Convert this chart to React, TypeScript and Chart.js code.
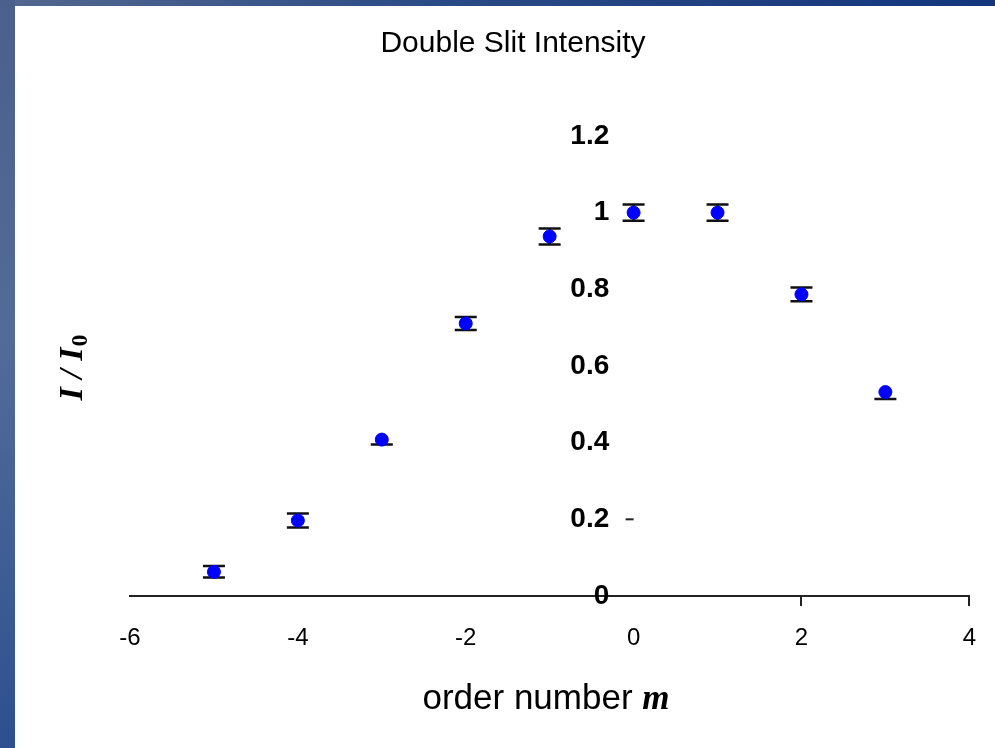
import React, { useEffect, useRef } from "react";
import { Chart, registerables } from "chart.js";

Chart.register(...registerables);

// ---- data ----
const orderNumbers = [-5, -4, -3, -2, -1, 0, 1, 2, 3];
const intensity = [0.063, 0.197, 0.408, 0.711, 0.938, 1.0, 1.0, 0.787, 0.532];
const errorUp = [0.015, 0.018, 0, 0.017, 0.021, 0.021, 0.021, 0.018, 0];
const errorDown = [0.015, 0.018, 0.013, 0.017, 0.021, 0.021, 0.021, 0.018, 0.018];
const xTicks = [-6, -4, -2, 0, 2, 4];
const yTicks = [0, 0.2, 0.4, 0.6, 0.8, 1, 1.2];
const markedYTick = 0.2;
const titleText = "Double Slit Intensity";
const xTitleText = "order number ";
const xTitleVar = "m";
const yTitleVar = "I / I";
const yTitleSub = "0";

const errorBarPlugin = {
  id: "errorBars",
  beforeDatasetsDraw(chart: any) {
    const ctx = chart.ctx;
    const xs = chart.scales.x;
    const ys = chart.scales.y;
    ctx.save();
    ctx.strokeStyle = "#111";
    ctx.lineWidth = 2.5;
    const cap = 11;
    orderNumbers.forEach((m, i) => {
      const px = xs.getPixelForValue(m);
      const yTop = ys.getPixelForValue(intensity[i] + errorUp[i]);
      const yBot = ys.getPixelForValue(intensity[i] - errorDown[i]);
      ctx.beginPath();
      ctx.moveTo(px, yTop);
      ctx.lineTo(px, yBot);
      if (errorUp[i] > 0) {
        ctx.moveTo(px - cap, yTop);
        ctx.lineTo(px + cap, yTop);
      }
      if (errorDown[i] > 0) {
        ctx.moveTo(px - cap, yBot);
        ctx.lineTo(px + cap, yBot);
      }
      ctx.stroke();
    });
    // small tick on the (invisible) y axis at x = 0
    const ax = xs.getPixelForValue(0);
    const ty = ys.getPixelForValue(markedYTick);
    ctx.lineWidth = 2;
    ctx.strokeStyle = "#222";
    ctx.beginPath();
    ctx.moveTo(ax - 8, ty);
    ctx.lineTo(ax, ty);
    ctx.stroke();
    ctx.restore();
  },
};

const textPlugin = {
  id: "texts",
  afterDraw(chart: any) {
    const ctx = chart.ctx;
    ctx.save();
    ctx.fillStyle = "#000";
    ctx.textBaseline = "alphabetic";
    // title
    ctx.font = '30px "Liberation Sans"';
    ctx.textAlign = "center";
    ctx.fillText(titleText, 513, 52);
    // x title
    ctx.textAlign = "left";
    ctx.font = '35px "Liberation Sans"';
    const w1 = ctx.measureText(xTitleText).width;
    ctx.font = 'italic bold 35px "Liberation Serif"';
    const w2 = ctx.measureText(xTitleVar).width;
    const sx = 546 - (w1 + w2) / 2;
    ctx.font = '35px "Liberation Sans"';
    ctx.fillText(xTitleText, sx, 709);
    ctx.font = 'italic bold 35px "Liberation Serif"';
    ctx.fillText(xTitleVar, sx + w1, 709);
    // y title (rotated)
    ctx.translate(82, 368);
    ctx.rotate(-Math.PI / 2);
    ctx.font = 'italic bold 34px "Liberation Serif"';
    const a = ctx.measureText(yTitleVar).width;
    ctx.font = 'bold 24px "Liberation Serif"';
    const b = ctx.measureText(yTitleSub).width;
    const start = -(a + b) / 2;
    ctx.font = 'italic bold 34px "Liberation Serif"';
    ctx.fillText(yTitleVar, start, 0);
    ctx.font = 'bold 24px "Liberation Serif"';
    ctx.fillText(yTitleSub, start + a + 1, 5);
    ctx.restore();
  },
};

function DoubleSlitChart() {
  const ref = useRef<HTMLCanvasElement>(null);
  useEffect(() => {
    if (!ref.current) return;
    const chart = new Chart(ref.current, {
      type: "scatter",
      data: {
        datasets: [
          {
            label: "I / I0",
            data: orderNumbers.map((m, i) => ({ x: m, y: intensity[i] })),
            backgroundColor: "#0000ff",
            borderColor: "#0000ff",
            pointRadius: 6.5,
            pointHoverRadius: 6.5,
            showLine: false,
          },
        ],
      },
      options: {
        animation: false,
        responsive: false,
        events: [],
        layout: { padding: { left: 130, right: 24, top: 136, bottom: 152 } },
        plugins: {
          legend: { display: false },
          title: { display: false },
          tooltip: { enabled: false },
        },
        scales: {
          x: {
            type: "linear",
            position: { y: 0 } as any,
            min: -6,
            max: 4,
            afterBuildTicks: (axis: any) => {
              axis.ticks = xTicks.map((v) => ({ value: v }));
            },
            border: { display: true, color: "#222", width: 2 },
            grid: {
              drawOnChartArea: false,
              drawTicks: true,
              tickLength: 9,
              lineWidth: 2,
              color: (c: any) => (c.tick && c.tick.value >= 2 ? "#222" : "rgba(0,0,0,0)"),
            },
            ticks: {
              padding: 19,
              color: "#000",
              font: { family: "Liberation Sans", size: 24 },
              callback: (v: any) => String(v),
            },
          },
          y: {
            type: "linear",
            // labels sit just left of the x = 0 crossing
            position: { x: -0.29 } as any,
            min: 0,
            max: 1.2,
            afterBuildTicks: (axis: any) => {
              axis.ticks = yTicks.map((v) => ({ value: v }));
            },
            border: { display: false },
            grid: {
              drawOnChartArea: false,
              drawTicks: false,
            },
            ticks: {
              padding: 0,
              color: "#000",
              font: { family: "Liberation Sans", size: 28, weight: "bold" },
              callback: (v: any) => String(v),
            },
          },
        },
      },
      plugins: [errorBarPlugin, textPlugin],
    });
    return () => chart.destroy();
  }, []);
  return (
    <canvas
      ref={ref}
      width={995}
      height={748}
      style={{ position: "absolute", left: 0, top: 0, width: 995, height: 748 }}
    />
  );
}

export default function App() {
  return (
    <div style={{ position: "fixed", left: 0, top: 0, width: 995, height: 748, overflow: "hidden", background: "#fff" }}>
      <div
        style={{
          position: "absolute",
          left: 0,
          top: 0,
          width: 995,
          height: 6,
          background: "linear-gradient(90deg, #52688f 0%, #2a4a86 45%, #13367c 100%)",
        }}
      />
      <div
        style={{
          position: "absolute",
          left: 0,
          top: 0,
          width: 15,
          height: 748,
          background: "linear-gradient(180deg, #4b608c 0%, #536b98 45%, #3f5e95 75%, #2d4f8f 100%)",
        }}
      />
      <DoubleSlitChart />
    </div>
  );
}
